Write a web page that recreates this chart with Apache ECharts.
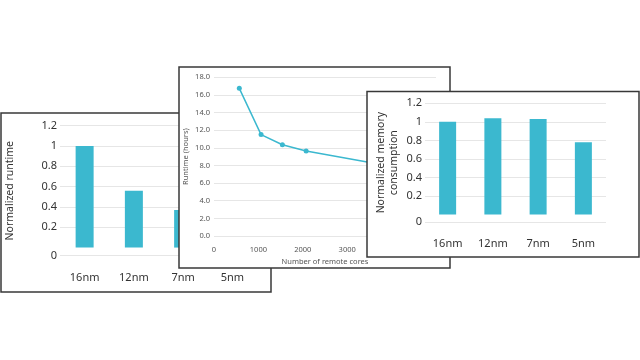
<!DOCTYPE html>
<html>
<head>
<meta charset="utf-8">
<script src="https://cdn.jsdelivr.net/npm/echarts@6/dist/echarts.min.js"></script>
<style>
html,body{margin:0;padding:0;background:#fff;}
#c{width:640px;height:360px;}
</style>
</head>
<body>
<div id="c"></div>
<script>
// ---- data ----
const nodes = ['16nm', '12nm', '7nm', '5nm'];
const runtimeNorm = [1.0, 0.56, 0.37, 0.30];      // 5nm hidden behind middle panel (estimate)
const memoryNorm = [1.0, 1.04, 1.03, 0.78];
const remoteCores = [570, 1060, 1540, 2075, 4200];
const runtimeHours = [16.75, 11.5, 10.35, 9.65, 7.7];
const barTickValues = [-0.08, 0.2, 0.4, 0.6, 0.8, 1.0, 1.2]; // first tick is the offset "0" line
const barTickLabels = ['0', '0.2', '0.4', '0.6', '0.8', '1', '1.2'];
const lineYTicks = [0, 2, 4, 6, 8, 10, 12, 14, 16, 18];
const lineXTicks = [0, 1000, 2000, 3000, 4000, 5000];

const FONT = 'Noto Sans';
const BAR_COLOR = '#3bb8cf';
const GRID_COLOR = '#e6e6e6';
const BORDER = '#383838';

const chart = echarts.init(document.getElementById('c'), null, {renderer: 'canvas'});

function barYAxis(gridIndex, z, name, nameGap, margin) {
  return {
    gridIndex: gridIndex, type: 'value', min: barTickValues[0], max: barTickValues[barTickValues.length - 1], z: z,
    name: name, nameLocation: 'middle', nameGap: nameGap, nameRotate: 90,
    nameTextStyle: {fontFamily: FONT, fontSize: 10.5, color: '#333', lineHeight: 12.5},
    axisLine: {show: false}, axisTick: {show: false, customValues: barTickValues},
    axisLabel: {customValues: barTickValues, margin: margin, fontFamily: FONT, fontSize: 11, color: '#333',
      formatter: v => barTickLabels[barTickValues.findIndex(t => Math.abs(t - v) < 1e-6)] ?? ''},
    splitLine: {show: true, lineStyle: {color: GRID_COLOR, width: 1}}
  };
}
function barXAxis(gridIndex, z, margin) {
  return {
    gridIndex: gridIndex, type: 'category', data: nodes, z: z,
    axisLine: {show: false}, axisTick: {show: false},
    axisLabel: {margin: margin, fontFamily: FONT, fontSize: 11, color: '#333', interval: 0}
  };
}

const option = {
  backgroundColor: '#fff',
  animation: false,
  graphic: [
    {type: 'rect', z: 1, shape: {x: 1, y: 113, width: 270, height: 179}, style: {fill: '#fff', stroke: BORDER, lineWidth: 1.5}},
    {type: 'rect', z: 4, shape: {x: 179, y: 67, width: 271, height: 201}, style: {fill: '#fff', stroke: BORDER, lineWidth: 1.5}},
    {type: 'rect', z: 7, shape: {x: 367, y: 91.5, width: 272, height: 165.5}, style: {fill: '#fff', stroke: BORDER, lineWidth: 1.5}}
  ],
  grid: [
    {left: 60, top: 125.7, width: 197, height: 130, containLabel: false},
    {left: 214, top: 77.3, width: 222, height: 158.7, containLabel: false},
    {left: 425, top: 103.3, width: 181, height: 118.7, containLabel: false}
  ],
  xAxis: [
    barXAxis(0, 2, 17),
    {
      gridIndex: 1, type: 'value', min: lineXTicks[0], max: lineXTicks[lineXTicks.length - 1], interval: 1000, z: 5,
      name: 'Number of remote cores', nameLocation: 'middle', nameGap: 22,
      nameTextStyle: {fontFamily: FONT, fontSize: 7.5, color: '#555'},
      axisLine: {show: false}, axisTick: {show: false},
      axisLabel: {margin: 10, fontFamily: FONT, fontSize: 7.5, color: '#555', formatter: v => String(v)},
      splitLine: {show: false}
    },
    barXAxis(2, 8, 16)
  ],
  yAxis: [
    barYAxis(0, 2, 'Normalized runtime', 44, 3),
    {
      gridIndex: 1, type: 'value', min: lineYTicks[0], max: lineYTicks[lineYTicks.length - 1], interval: 2, z: 5,
      name: 'Runtime (hours)', nameLocation: 'middle', nameGap: 24, nameRotate: 90,
      nameTextStyle: {fontFamily: FONT, fontSize: 7.5, color: '#555'},
      axisLine: {show: false}, axisTick: {show: false},
      axisLabel: {margin: 4, fontFamily: FONT, fontSize: 7.5, color: '#555', formatter: v => v.toFixed(1)},
      splitLine: {show: true, lineStyle: {color: GRID_COLOR, width: 1}}
    },
    barYAxis(2, 8, 'Normalized memory\nconsumption', 25, 3)
  ],
  series: [
    {type: 'bar', xAxisIndex: 0, yAxisIndex: 0, z: 3, data: runtimeNorm, barWidth: 18,
      itemStyle: {color: BAR_COLOR}},
    {type: 'line', xAxisIndex: 1, yAxisIndex: 1, z: 6, data: remoteCores.map((x, i) => [x, runtimeHours[i]]),
      symbol: 'circle', symbolSize: 5, lineStyle: {color: BAR_COLOR, width: 1.5}, itemStyle: {color: BAR_COLOR}},
    {type: 'bar', xAxisIndex: 2, yAxisIndex: 2, z: 9, data: memoryNorm, barWidth: 17,
      itemStyle: {color: BAR_COLOR}}
  ]
};
chart.setOption(option);
</script>
</body>
</html>
